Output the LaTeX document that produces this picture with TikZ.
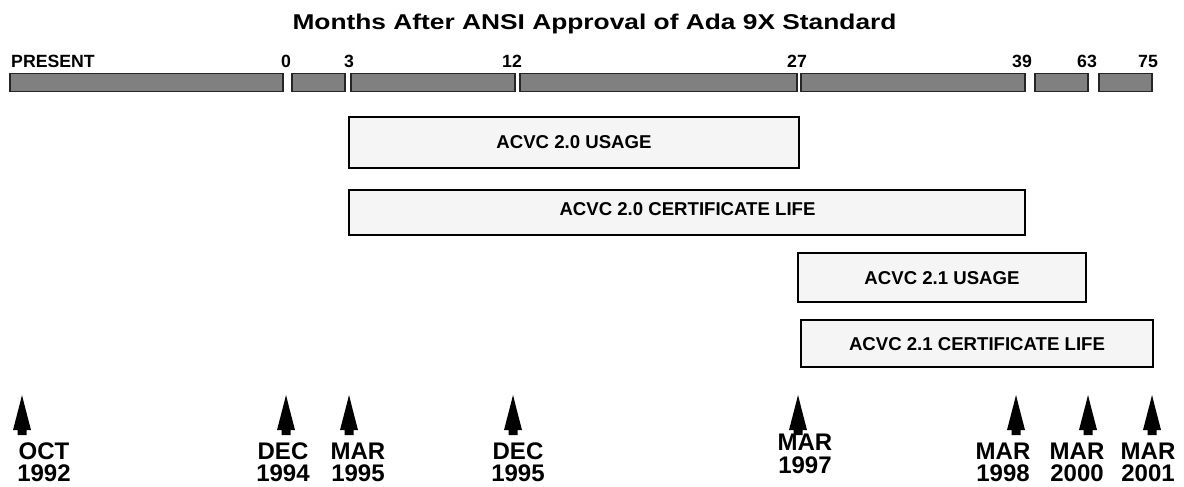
\documentclass[tikz,border=0pt]{standalone}
\usepackage{fontspec}
\setmainfont{Liberation Sans}
\begin{document}
\begin{tikzpicture}[x=1pt,y=-1pt,
  seg/.style={draw=black!85,fill=black!50,line width=1.2pt},
  span/.style={draw=black,fill=black!4,line width=1.1pt},
  blab/.style={font=\bfseries\fontsize{18.6}{20}\selectfont,inner sep=0pt,anchor=base},
  tlab/.style={font=\bfseries\fontsize{17.7}{20}\selectfont,inner sep=0pt,anchor=base},
  dlab/.style={font=\bfseries\fontsize{24}{22.5}\selectfont,align=center,inner sep=0pt,anchor=base},
  uparrow/.style={fill=black,draw=none}]
\useasboundingbox (0,0) rectangle (1184,487);
% title
\node[font=\bfseries\fontsize{21.4}{24}\selectfont,inner sep=0pt,anchor=base] (title) at (594.5,29.3) {\scalebox{1.23}[1]{Months After ANSI Approval of Ada 9X Standard}};
% segment bars
\draw[seg] (10,73.3) rectangle (283,91.7);
\draw[seg] (292,73.3) rectangle (345,91.7);
\draw[seg] (351,73.3) rectangle (515,91.7);
\draw[seg] (520,73.3) rectangle (797,91.7);
\draw[seg] (801,73.3) rectangle (1025,91.7);
\draw[seg] (1035,73.3) rectangle (1088,91.7);
\draw[seg] (1099,73.3) rectangle (1152,91.7);
% bar labels
\node[tlab,anchor=base west] (present) at (11,67) {PRESENT};
\node[tlab] (m0) at (286,67) {0};
\node[tlab] (m3) at (349,67) {3};
\node[tlab] (m12) at (512,67) {12};
\node[tlab] (m27) at (797,67) {27};
\node[tlab] (m39) at (1022,67) {39};
\node[tlab] (m63) at (1087,67) {63};
\node[tlab] (m75) at (1148,67) {75};
% span boxes
\draw[span] (349,117) rectangle (799,168);
\node[blab] (u20) at (574,148.3) {ACVC 2.0 USAGE};
\draw[span] (349,190) rectangle (1025,235);
\node[blab] (c20) at (687.5,215.7) {ACVC 2.0 CERTIFICATE LIFE};
\draw[span] (798,253) rectangle (1086,302);
\node[blab] (u21) at (942,284) {ACVC 2.1 USAGE};
\draw[span] (801,320) rectangle (1153,367);
\node[blab] (c21) at (977,350) {ACVC 2.1 CERTIFICATE LIFE};
% arrows
\foreach \ax in {22,286,349,513,798,1016,1088,1152}{
  \fill[uparrow] (\ax,395) -- (\ax+2.5,405) -- (\ax+9,430) -- (\ax+4.5,430) -- (\ax+4.5,435)
     -- (\ax-4.5,435) -- (\ax-4.5,430) -- (\ax-9,430) -- (\ax-2.5,405) -- cycle;
}
% date labels (base anchor = baseline of the last line)
\node[dlab] (d1) at (44,481.5) {OCT\\1992};
\node[dlab] (d2) at (283,481.5) {DEC\\1994};
\node[dlab] (d3) at (358,481.5) {MAR\\1995};
\node[dlab] (d4) at (518,481.5) {DEC\\1995};
\node[dlab] (d5) at (805,473) {MAR\\1997};
\node[dlab] (d6) at (1003,481.5) {MAR\\1998};
\node[dlab] (d7) at (1077,481.5) {MAR\\2000};
\node[dlab] (d8) at (1148,481.5) {MAR\\2001};
\end{tikzpicture}
\end{document}
